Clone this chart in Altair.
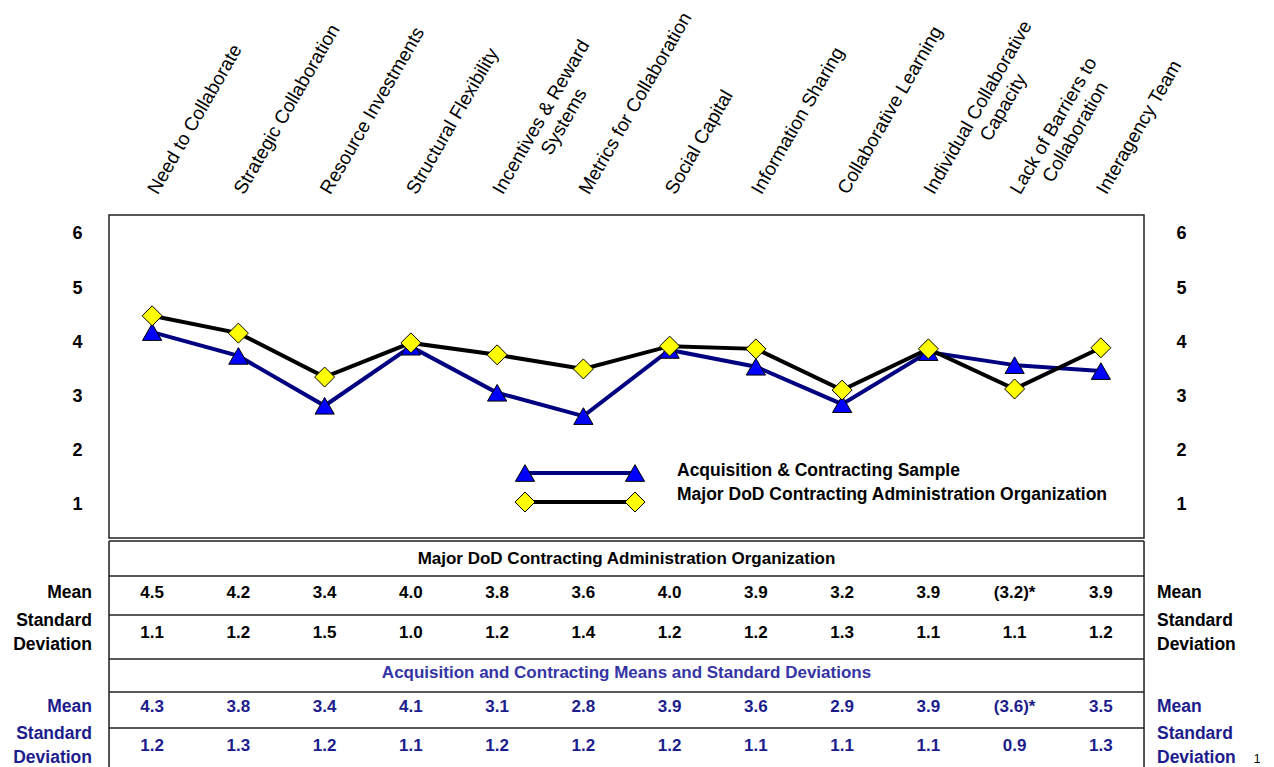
import altair as alt
import pandas as pd

# ---------------- data ----------------
categories = [
    "Need to Collaborate", "Strategic Collaboration", "Resource Investments",
    "Structural Flexibility", "Incentives & Reward\nSystems", "Metrics for Collaboration",
    "Social Capital", "Information Sharing", "Collaborative Learning",
    "Individual Collaborative\nCapacity", "Lack of Barriers to\nCollaboration", "Interagency Team",
]
series_names = ["Acquisition & Contracting Sample",
                "Major DoD Contracting Administration Organization"]

# plotted values
acq_plot = [4.19, 3.75, 2.83, 3.92, 3.07, 2.64, 3.86, 3.55, 2.86, 3.82, 3.58, 3.47]
major_plot = [4.49, 4.17, 3.36, 3.99, 3.77, 3.51, 3.93, 3.88, 3.12, 3.88, 3.14, 3.90]

# table values
major_mean = ["4.5", "4.2", "3.4", "4.0", "3.8", "3.6", "4.0", "3.9", "3.2", "3.9", "(3.2)*", "3.9"]
major_sd = ["1.1", "1.2", "1.5", "1.0", "1.2", "1.4", "1.2", "1.2", "1.3", "1.1", "1.1", "1.2"]
acq_mean = ["4.3", "3.8", "3.4", "4.1", "3.1", "2.8", "3.9", "3.6", "2.9", "3.9", "(3.6)*", "3.5"]
acq_sd = ["1.2", "1.3", "1.2", "1.1", "1.2", "1.2", "1.2", "1.1", "1.1", "1.1", "0.9", "1.3"]

table_titles = ["Major DoD Contracting Administration Organization",
                "Acquisition and Contracting Means and Standard Deviations"]
row_labels = ["Mean", "Standard\nDeviation", "Mean", "Standard\nDeviation"]
y_ticks = [1, 2, 3, 4, 5, 6]
page_number = ["1"]

# ---------------- style / layout ----------------
W = 1035
PH = 323
TH = 229
FONT = "Liberation Sans"
BLUE_TXT = "#1c1c8c"
TITLE2 = "#3434a4"


def centre_second_line(lbl):
    if "\n" not in lbl:
        return lbl
    a, b = lbl.split("\n")
    pad = "\u00a0" * max(0, round((len(a) - len(b)) * 0.9))
    return a + "\n\u200b" + pad + b


labels = [centre_second_line(c) for c in categories]

xs = alt.Scale(type="point", domain=labels, padding=0.5)
ys = alt.Scale(domain=[0.39, 6.35], nice=False, zero=False)

plot_df = pd.DataFrame({
    "cat": labels * 2,
    "series": [series_names[0]] * 12 + [series_names[1]] * 12,
    "value": acq_plot + major_plot,
})

header_axis = alt.Axis(
    orient="top", title=None, labelAngle=300, labelAlign="left", labelBaseline="middle",
    labelFont=FONT, labelFontSize=19, labelFontWeight="normal", labelColor="black",
    labelPadding=23, labelLineHeight=22, domain=False, ticks=False, grid=False,
    labelLimit=0, labelOverlap=False, labelExpr="split(datum.label, '\\n')",
)
left_axis = alt.Axis(
    orient="left", title=None, values=y_ticks, format="d", domain=False, ticks=False,
    grid=False, labelPadding=27, labelFont=FONT, labelFontSize=18, labelFontWeight="bold",
    labelColor="black",
)
right_axis = alt.Axis(
    orient="right", title=None, values=y_ticks, format="d", domain=False, ticks=False,
    grid=False, labelPadding=32, labelFont=FONT, labelFontSize=18, labelFontWeight="bold",
    labelColor="black",
)

x_enc = alt.X("cat:N", scale=xs, sort=labels, axis=header_axis)

base = alt.Chart(plot_df)
lines = base.mark_line(strokeWidth=4).encode(
    x=x_enc,
    y=alt.Y("value:Q", scale=ys, axis=left_axis),
    color=alt.Color("series:N", scale=alt.Scale(domain=series_names, range=["#000080", "#000000"]),
                    legend=None),
)
tri = base.transform_filter(alt.datum.series == series_names[0]).mark_point(
    shape="triangle-up", filled=True, fill="#0000ff", stroke="#000000", strokeWidth=1,
    size=370, opacity=1,
).encode(
    x=x_enc,
    y=alt.Y("value:Q", scale=ys, axis=right_axis),
)
dia = base.transform_filter(alt.datum.series == series_names[1]).mark_point(
    shape="diamond", filled=True, fill="#ffff00", stroke="#000000", strokeWidth=1,
    size=400, opacity=1,
).encode(
    x=x_enc,
    y=alt.Y("value:Q", scale=ys, axis=None),
)

# manual legend inside the plot
one = pd.DataFrame({"k": [0]})
leg_df = pd.DataFrame({"name": series_names})
lg_line1 = alt.Chart(one).mark_rule(color="#000080", strokeWidth=4).encode(
    x=alt.value(416), x2=alt.value(526), y=alt.value(258))
lg_line2 = alt.Chart(one).mark_rule(color="#000000", strokeWidth=4).encode(
    x=alt.value(416), x2=alt.value(526), y=alt.value(287))
lg_pts = []
for xv in (416, 526):
    lg_pts.append(alt.Chart(one).mark_point(
        shape="triangle-up", filled=True, fill="#0000ff", stroke="#000000", strokeWidth=1,
        size=370, opacity=1).encode(x=alt.value(xv), y=alt.value(258)))
    lg_pts.append(alt.Chart(one).mark_point(
        shape="diamond", filled=True, fill="#ffff00", stroke="#000000", strokeWidth=1,
        size=400, opacity=1).encode(x=alt.value(xv), y=alt.value(287)))
lg_txt1 = alt.Chart(leg_df.iloc[[0]]).mark_text(
    align="left", baseline="middle", font=FONT, fontSize=17.5, fontWeight="bold", color="black"
).encode(x=alt.value(568), y=alt.value(256), text="name:N")
lg_txt2 = alt.Chart(leg_df.iloc[[1]]).mark_text(
    align="left", baseline="middle", font=FONT, fontSize=17.5, fontWeight="bold", color="black"
).encode(x=alt.value(568), y=alt.value(280), text="name:N")

plot = alt.layer(
    lines, tri, dia, lg_line1, lg_line2, *lg_pts, lg_txt1, lg_txt2
).resolve_axis(y="independent").properties(
    width=W, height=PH,
    view=alt.ViewBackground(stroke="#222222", strokeWidth=1.5),
)

# ---------------- table ----------------
tys = alt.Scale(domain=[0, TH], nice=False, zero=False, reverse=True)
row_pos = {"title1": 18, "mean1": 52, "sd1": 92, "title2": 132, "mean2": 166, "sd2": 205}
label_pos = [52, 80, 166, 193]   # first-line positions of the row labels
bounds = [0, 35, 74, 118, 151, 187]

vals = []
for i, lab in enumerate(labels):
    vals.append({"cat": lab, "pos": row_pos["mean1"], "txt": major_mean[i], "grp": "major"})
    vals.append({"cat": lab, "pos": row_pos["sd1"], "txt": major_sd[i], "grp": "major"})
    vals.append({"cat": lab, "pos": row_pos["mean2"], "txt": acq_mean[i], "grp": "acq"})
    vals.append({"cat": lab, "pos": row_pos["sd2"], "txt": acq_sd[i], "grp": "acq"})
vals_df = pd.DataFrame(vals)

grp_color = alt.Scale(domain=["major", "acq", "title2"], range=["#000000", BLUE_TXT, TITLE2])

tbl_vals = alt.Chart(vals_df).mark_text(
    font=FONT, fontSize=17, fontWeight="bold", baseline="middle", align="center"
).encode(
    x=alt.X("cat:N", scale=xs, sort=labels, axis=None),
    y=alt.Y("pos:Q", scale=tys, axis=None),
    text="txt:N",
    color=alt.Color("grp:N", scale=grp_color, legend=None),
)

titles_df = pd.DataFrame({
    "txt": table_titles,
    "pos": [row_pos["title1"], row_pos["title2"]],
    "grp": ["major", "title2"],
})
tbl_titles = alt.Chart(titles_df).mark_text(
    font=FONT, fontSize=17, fontWeight="bold", baseline="middle", align="center"
).encode(
    x=alt.value(W / 2),
    y=alt.Y("pos:Q", scale=tys, axis=None),
    text="txt:N",
    color=alt.Color("grp:N", scale=grp_color, legend=None),
)

rl_df = pd.DataFrame({
    "txt": row_labels,
    "pos": label_pos,
    "grp": ["major", "major", "acq", "acq"],
})
rl_left = alt.Chart(rl_df).mark_text(
    font=FONT, fontSize=17.5, fontWeight="bold", baseline="middle", align="right",
    lineBreak="\n", lineHeight=24,
).encode(
    x=alt.value(-17),
    y=alt.Y("pos:Q", scale=tys, axis=None),
    text="txt:N",
    color=alt.Color("grp:N", scale=grp_color, legend=None),
)
rl_right = alt.Chart(rl_df).mark_text(
    font=FONT, fontSize=17.5, fontWeight="bold", baseline="middle", align="left",
    lineBreak="\n", lineHeight=24,
).encode(
    x=alt.value(W + 13),
    y=alt.Y("pos:Q", scale=tys, axis=None),
    text="txt:N",
    color=alt.Color("grp:N", scale=grp_color, legend=None),
)

page_txt = alt.Chart(pd.DataFrame({"txt": page_number})).mark_text(
    font=FONT, fontSize=12, align="center", baseline="top", color="black"
).encode(x=alt.value(W + 113), y=alt.value(213), text="txt:N")

hrules = alt.Chart(pd.DataFrame({"pos": bounds})).mark_rule(
    color="#222222", strokeWidth=1.5
).encode(
    x=alt.value(0), x2=alt.value(W),
    y=alt.Y("pos:Q", scale=tys, axis=None),
)
vrule_l = alt.Chart(one).mark_rule(color="#222222", strokeWidth=1.5).encode(
    x=alt.value(0), y=alt.value(0), y2=alt.value(TH))
vrule_r = alt.Chart(one).mark_rule(color="#222222", strokeWidth=1.5).encode(
    x=alt.value(W), y=alt.value(0), y2=alt.value(TH))

table = alt.layer(
    hrules, vrule_l, vrule_r, tbl_titles, tbl_vals, rl_left, rl_right, page_txt
).properties(width=W, height=TH)

chart = alt.vconcat(plot, table, spacing=0).resolve_scale(
    color="independent"
).properties(
    padding={"left": 4, "top": 0, "right": 0, "bottom": 0}
).configure_view(strokeWidth=0).configure(background="white")

chart.save("out.html", embed_options={"renderer": "svg", "actions": False})
